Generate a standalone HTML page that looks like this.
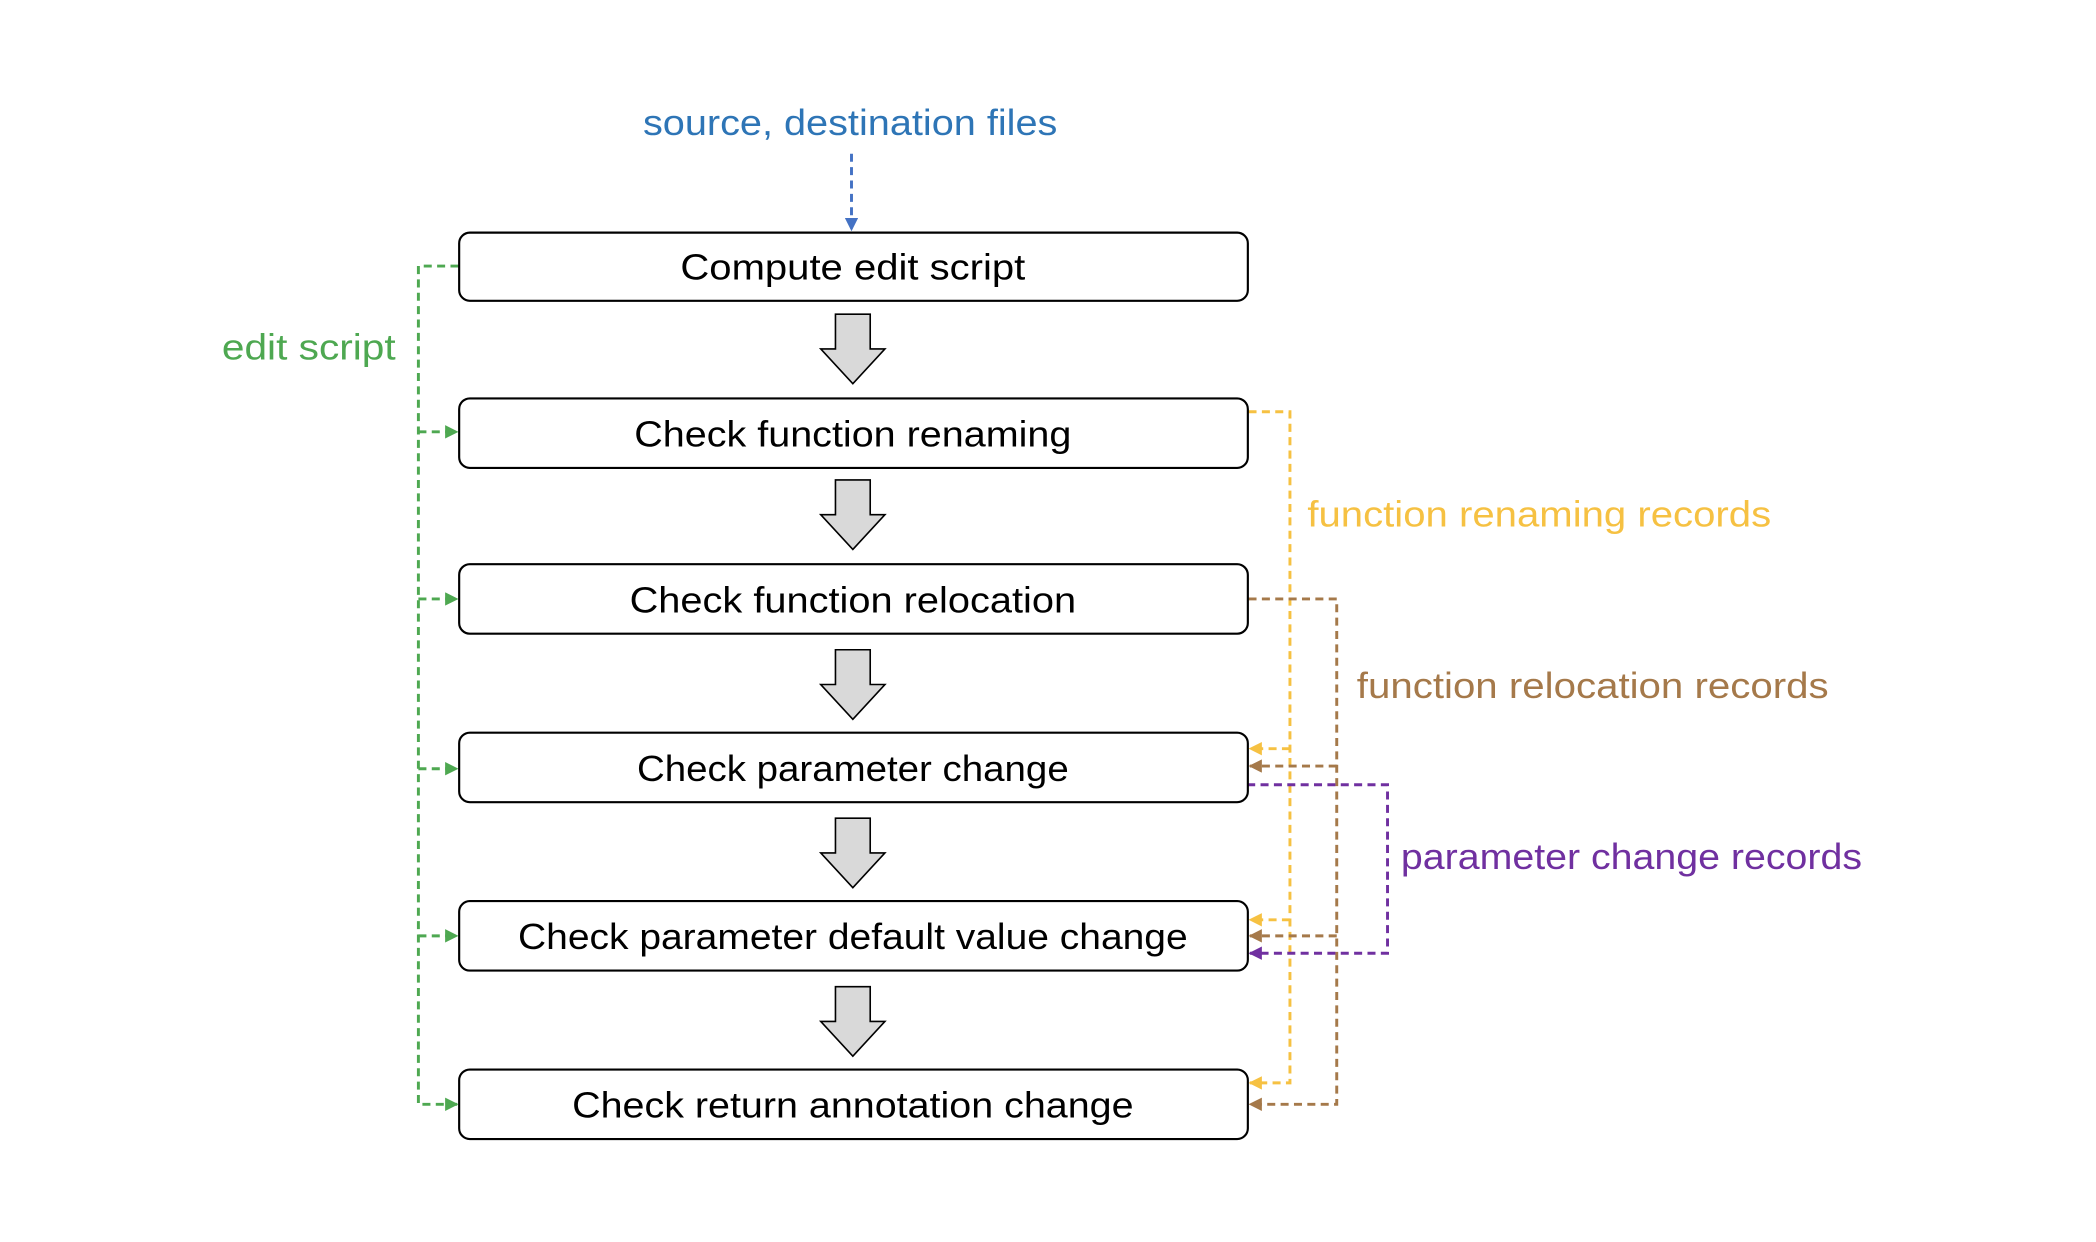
<!DOCTYPE html>
<html><head><meta charset="utf-8"><style>html,body{margin:0;padding:0;background:#fff}svg{display:block}</style></head>
<body>
<svg width="2096" height="1242" viewBox="0 0 1568 929" preserveAspectRatio="none" xmlns="http://www.w3.org/2000/svg" font-family="Liberation Sans, sans-serif">
<defs>
<marker id="mb" markerWidth="10" markerHeight="10" refX="9" refY="5" orient="auto" markerUnits="userSpaceOnUse"><path d="M0,0 L10,5 L0,10z" fill="#4472C4"/></marker>
<marker id="mg" markerWidth="10" markerHeight="10" refX="9" refY="5" orient="auto" markerUnits="userSpaceOnUse"><path d="M0,0 L10,5 L0,10z" fill="#4EA851"/></marker>
<marker id="my" markerWidth="10" markerHeight="10" refX="9" refY="5" orient="auto" markerUnits="userSpaceOnUse"><path d="M0,0 L10,5 L0,10z" fill="#F6C142"/></marker>
<marker id="mr" markerWidth="10" markerHeight="10" refX="9" refY="5" orient="auto" markerUnits="userSpaceOnUse"><path d="M0,0 L10,5 L0,10z" fill="#A5794A"/></marker>
<marker id="mp" markerWidth="10" markerHeight="10" refX="9" refY="5" orient="auto" markerUnits="userSpaceOnUse"><path d="M0,0 L10,5 L0,10z" fill="#7030A0"/></marker>
</defs>
<g fill="none" stroke-width="2.2" stroke-dasharray="6,4">
<path d="M637,115 V172" stroke="#4472C4" marker-end="url(#mb)"/>
<g stroke="#4EA851">
<path d="M343,199 H313 V826 H342" marker-end="url(#mg)"/>
<path d="M313,323 H342" marker-end="url(#mg)"/>
<path d="M313,448 H342" marker-end="url(#mg)"/>
<path d="M313,575 H342" marker-end="url(#mg)"/>
<path d="M313,700 H342" marker-end="url(#mg)"/>
</g>
<g stroke="#F6C142">
<path d="M934,308 H965 V810 H935" marker-end="url(#my)"/>
<path d="M965,560 H935" marker-end="url(#my)"/>
<path d="M965,688 H935" marker-end="url(#my)"/>
</g>
<g stroke="#A5794A">
<path d="M934,448 H1000 V826 H935" marker-end="url(#mr)"/>
<path d="M1000,573 H935" marker-end="url(#mr)"/>
<path d="M1000,700 H935" marker-end="url(#mr)"/>
</g>
<path d="M933,587 H1038 V713 H935" stroke="#7030A0" marker-end="url(#mp)"/>
</g>
<g fill="#fff" stroke="#000" stroke-width="1.6">
<rect x="343.5" y="174" width="590" height="51" rx="8"/>
<rect x="343.5" y="298" width="590" height="52" rx="8"/>
<rect x="343.5" y="422" width="590" height="52" rx="8"/>
<rect x="343.5" y="548" width="590" height="52" rx="8"/>
<rect x="343.5" y="674" width="590" height="52" rx="8"/>
<rect x="343.5" y="800" width="590" height="52" rx="8"/>
</g>
<g fill="#D9D9D9" stroke="#000" stroke-width="1.2">
<path d="M625,235 H651 V261 H662 L638,287 L614,261 H625 Z"/>
<path d="M625,359 H651 V385 H662 L638,411 L614,385 H625 Z"/>
<path d="M625,486 H651 V512 H662 L638,538 L614,512 H625 Z"/>
<path d="M625,612 H651 V638 H662 L638,664 L614,638 H625 Z"/>
<path d="M625,738 H651 V764 H662 L638,790 L614,764 H625 Z"/>
</g>
<g font-size="27" fill="#000" text-anchor="middle">
<text x="638" y="209" textLength="258" lengthAdjust="spacingAndGlyphs">Compute edit script</text>
<text x="638" y="334" textLength="327" lengthAdjust="spacingAndGlyphs">Check function renaming</text>
<text x="638" y="458" textLength="334" lengthAdjust="spacingAndGlyphs">Check function relocation</text>
<text x="638" y="584" textLength="323" lengthAdjust="spacingAndGlyphs">Check parameter change</text>
<text x="638" y="710" textLength="501" lengthAdjust="spacingAndGlyphs">Check parameter default value change</text>
<text x="638" y="836" textLength="420" lengthAdjust="spacingAndGlyphs">Check return annotation change</text>
</g>
<g font-size="27">
<text x="481" y="101" fill="#2E75B6" textLength="310" lengthAdjust="spacingAndGlyphs">source, destination files</text>
<text x="166" y="269" fill="#4EA851" textLength="130" lengthAdjust="spacingAndGlyphs">edit script</text>
<text x="978" y="394" fill="#F6C142" textLength="347" lengthAdjust="spacingAndGlyphs">function renaming records</text>
<text x="1015" y="522" fill="#A5794A" textLength="353" lengthAdjust="spacingAndGlyphs">function relocation records</text>
<text x="1048" y="650" fill="#7030A0" textLength="345" lengthAdjust="spacingAndGlyphs">parameter change records</text>
</g>
</svg>
</body></html>
